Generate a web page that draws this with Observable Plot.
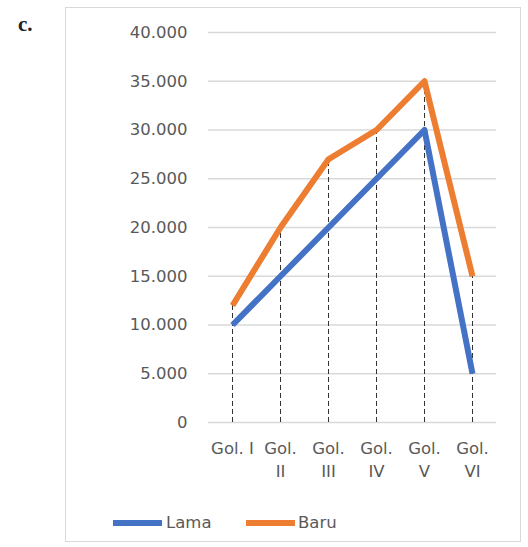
<!DOCTYPE html>
<html>
<head>
<meta charset="utf-8">
<script src="https://cdn.jsdelivr.net/npm/d3@7"></script>
<script src="https://cdn.jsdelivr.net/npm/@observablehq/plot@0.6"></script>
<style>
  html, body { margin: 0; padding: 0; background: #fff; }
  #wrap { position: relative; width: 528px; height: 547px; overflow: hidden; font-family: "DejaVu Sans", sans-serif; }
  #frame { position: absolute; left: 65px; top: 7px; width: 456px; height: 535px; border: 1px solid #d9d9d9; box-sizing: border-box; }
  #label { position: absolute; left: 18px; top: 12px; font-family: "Liberation Serif", "DejaVu Serif", serif; font-weight: bold; font-size: 21px; color: #222; }
  #chart { position: absolute; left: 0; top: 0; }
  #legend { position: absolute; top: 511px; left: 0; width: 528px; height: 24px; font-size: 16.5px; color: #595959; }
  .sw { position: absolute; top: 9px; height: 6px; }
  .lt { position: absolute; top: 0; line-height: 24px; }
</style>
</head>
<body>
<div id="wrap">
  <div id="frame"></div>
  <div id="label">c.</div>
  <div id="chart"></div>
  <div id="legend"></div>
</div>
<script>
const categories = ["Gol. I", "Gol. II", "Gol. III", "Gol. IV", "Gol. V", "Gol. VI"];
const categoryLabels = ["Gol. I", "Gol.\nII", "Gol.\nIII", "Gol.\nIV", "Gol.\nV", "Gol.\nVI"];
const lama = [10000, 15000, 20000, 25000, 30000, 5000];
const baru = [12000, 20000, 27000, 30000, 35000, 15000];
const yTicks = [0, 5000, 10000, 15000, 20000, 25000, 30000, 35000, 40000];
const seriesNames = ["Lama", "Baru"];
const seriesColors = ["#4472C4", "#ED7D31"];

const rows = [];
categories.forEach((c, i) => {
  rows.push({cat: c, series: "Lama", value: lama[i]});
  rows.push({cat: c, series: "Baru", value: baru[i]});
});
const drops = categories.map((c, i) => ({cat: c, top: Math.max(lama[i], baru[i])}));
const labelOf = new Map(categories.map((c, i) => [c, categoryLabels[i]]));
const fmt = d => d3.format(",")(d).replace(/,/g, ".");

const chart = Plot.plot({
  width: 528,
  height: 490,
  marginTop: 32,
  marginBottom: 68,
  marginLeft: 208,
  marginRight: 32,
  style: {fontFamily: "DejaVu Sans, sans-serif", fontSize: "16.5px", color: "#595959", background: "transparent", overflow: "visible"},
  x: {type: "band", domain: categories, padding: 0},
  y: {domain: [0, 40000]},
  color: {domain: seriesNames, range: seriesColors},
  marks: [
    Plot.gridY(yTicks, {stroke: "#d9d9d9", strokeOpacity: 1, strokeWidth: 1.5}),
    Plot.ruleX(drops, {x: "cat", y1: 0, y2: "top", stroke: "#333", strokeWidth: 1, strokeDasharray: "5,3"}),
    Plot.line(rows, {x: "cat", y: "value", z: "series", stroke: "series", strokeWidth: 6, strokeLinejoin: "round", strokeLinecap: "butt"}),
    Plot.axisY({ticks: yTicks, tickFormat: fmt, tickSize: 0, tickPadding: 21, label: null, fontSize: 16.5}),
    Plot.axisX({tickFormat: d => labelOf.get(d), tickSize: 0, tickPadding: 16, label: null, lineHeight: 1.35, fontSize: 16.5})
  ]
});
document.getElementById("chart").appendChild(chart);

const legend = document.getElementById("legend");
const legendPos = [{sw: 113, tx: 166}, {sw: 246, tx: 298}];
seriesNames.forEach((name, i) => {
  const sw = document.createElement("div");
  sw.className = "sw";
  sw.style.left = legendPos[i].sw + "px";
  sw.style.width = "49px";
  sw.style.background = seriesColors[i];
  legend.appendChild(sw);
  const t = document.createElement("div");
  t.className = "lt";
  t.style.left = legendPos[i].tx + "px";
  t.textContent = name;
  legend.appendChild(t);
});
</script>
</body>
</html>
